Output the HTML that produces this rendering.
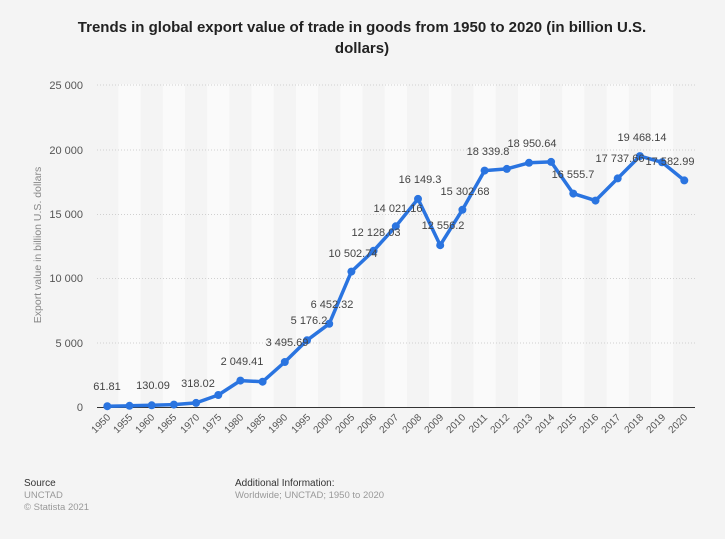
<!DOCTYPE html>
<html><head><meta charset="utf-8"><style>
body{margin:0;background:#f4f4f4;}
svg{display:block;font-family:"Liberation Sans",Arial,sans-serif;}
</style></head><body>
<svg width="725" height="539" viewBox="0 0 725 539" xmlns="http://www.w3.org/2000/svg">
<rect width="725" height="539" fill="#f4f4f4"/>
<text x="362" y="32" text-anchor="middle" font-size="15" font-weight="bold" fill="#222">Trends in global export value of trade in goods from 1950 to 2020 (in billion U.S.</text>
<text x="362" y="53" text-anchor="middle" font-size="15" font-weight="bold" fill="#222">dollars)</text>
<g fill="#fafafa">
<rect x="118.4" y="84" width="22.2" height="323"/><rect x="162.8" y="84" width="22.2" height="323"/><rect x="207.2" y="84" width="22.2" height="323"/><rect x="251.5" y="84" width="22.2" height="323"/><rect x="295.9" y="84" width="22.2" height="323"/><rect x="340.3" y="84" width="22.2" height="323"/><rect x="384.7" y="84" width="22.2" height="323"/><rect x="429.1" y="84" width="22.2" height="323"/><rect x="473.5" y="84" width="22.2" height="323"/><rect x="517.9" y="84" width="22.2" height="323"/><rect x="562.2" y="84" width="22.2" height="323"/><rect x="606.6" y="84" width="22.2" height="323"/><rect x="651.0" y="84" width="22.2" height="323"/>
</g>
<g stroke="#d0d0d0" stroke-width="1" stroke-dasharray="1,2">
<line x1="97" x2="695" y1="85" y2="85"/><line x1="97" x2="695" y1="150" y2="150"/><line x1="97" x2="695" y1="214.5" y2="214.5"/><line x1="97" x2="695" y1="278.5" y2="278.5"/><line x1="97" x2="695" y1="343" y2="343"/>
</g>
<line x1="97" x2="695" y1="407.5" y2="407.5" stroke="#333" stroke-width="1"/>
<g font-size="11" fill="#555" text-anchor="end">
<text x="83" y="89">25 000</text><text x="83" y="154">20 000</text><text x="83" y="218">15 000</text><text x="83" y="282">10 000</text><text x="83" y="347">5 000</text><text x="83" y="411">0</text>
</g>
<text transform="translate(41,245) rotate(-90)" text-anchor="middle" font-size="10.5" fill="#888">Export value in billion U.S. dollars</text>
<polyline fill="none" stroke="#2a74e0" stroke-width="3.5" stroke-linejoin="round" points="107.3,406.2 129.5,405.8 151.7,405.3 173.9,404.6 196.1,402.9 218.3,395 240.4,380.6 262.6,381.7 284.8,362 307,340.3 329.2,323.8 351.4,271.6 373.6,250.7 395.8,226.3 418,198.9 440.2,245.2 462.4,209.8 484.6,170.6 506.8,168.9 529,162.8 551.1,161.9 573.3,193.6 595.5,200.6 617.7,178.4 639.9,156.1 662.1,162.3 684.3,180.4"/>
<g fill="#2a74e0">
<circle cx="107.3" cy="406.2" r="4"/><circle cx="129.5" cy="405.8" r="4"/><circle cx="151.7" cy="405.3" r="4"/><circle cx="173.9" cy="404.6" r="4"/><circle cx="196.1" cy="402.9" r="4"/><circle cx="218.3" cy="395" r="4"/><circle cx="240.4" cy="380.6" r="4"/><circle cx="262.6" cy="381.7" r="4"/><circle cx="284.8" cy="362" r="4"/><circle cx="307" cy="340.3" r="4"/><circle cx="329.2" cy="323.8" r="4"/><circle cx="351.4" cy="271.6" r="4"/><circle cx="373.6" cy="250.7" r="4"/><circle cx="395.8" cy="226.3" r="4"/><circle cx="418" cy="198.9" r="4"/><circle cx="440.2" cy="245.2" r="4"/><circle cx="462.4" cy="209.8" r="4"/><circle cx="484.6" cy="170.6" r="4"/><circle cx="506.8" cy="168.9" r="4"/><circle cx="529" cy="162.8" r="4"/><circle cx="551.1" cy="161.9" r="4"/><circle cx="573.3" cy="193.6" r="4"/><circle cx="595.5" cy="200.6" r="4"/><circle cx="617.7" cy="178.4" r="4"/><circle cx="639.9" cy="156.1" r="4"/><circle cx="662.1" cy="162.3" r="4"/><circle cx="684.3" cy="180.4" r="4"/>
</g>
<g font-size="11" fill="#444" text-anchor="middle">
<text x="107" y="390">61.81</text><text x="153" y="389">130.09</text><text x="198" y="387">318.02</text><text x="242" y="365">2 049.41</text><text x="287" y="346">3 495.69</text><text x="309" y="324">5 176.2</text><text x="332" y="308">6 452.32</text><text x="353" y="257">10 502.74</text><text x="376" y="236">12 128.03</text><text x="398" y="212">14 021.16</text><text x="420" y="183">16 149.3</text><text x="443" y="229">12 556.2</text><text x="465" y="195">15 302.68</text><text x="488" y="155">18 339.8</text><text x="532" y="147">18 950.64</text><text x="573" y="178">16 555.7</text><text x="620" y="162">17 737.66</text><text x="642" y="141">19 468.14</text><text x="670" y="165">17 582.99</text>
</g>
<g font-size="10" fill="#555" text-anchor="end">
<text transform="translate(111,418) rotate(-45)">1950</text><text transform="translate(133,418) rotate(-45)">1955</text><text transform="translate(155,418) rotate(-45)">1960</text><text transform="translate(177,418) rotate(-45)">1965</text><text transform="translate(200,418) rotate(-45)">1970</text><text transform="translate(222,418) rotate(-45)">1975</text><text transform="translate(244,418) rotate(-45)">1980</text><text transform="translate(266,418) rotate(-45)">1985</text><text transform="translate(288,418) rotate(-45)">1990</text><text transform="translate(311,418) rotate(-45)">1995</text><text transform="translate(333,418) rotate(-45)">2000</text><text transform="translate(355,418) rotate(-45)">2005</text><text transform="translate(377,418) rotate(-45)">2006</text><text transform="translate(399,418) rotate(-45)">2007</text><text transform="translate(422,418) rotate(-45)">2008</text><text transform="translate(444,418) rotate(-45)">2009</text><text transform="translate(466,418) rotate(-45)">2010</text><text transform="translate(488,418) rotate(-45)">2011</text><text transform="translate(510,418) rotate(-45)">2012</text><text transform="translate(533,418) rotate(-45)">2013</text><text transform="translate(555,418) rotate(-45)">2014</text><text transform="translate(577,418) rotate(-45)">2015</text><text transform="translate(599,418) rotate(-45)">2016</text><text transform="translate(621,418) rotate(-45)">2017</text><text transform="translate(644,418) rotate(-45)">2018</text><text transform="translate(666,418) rotate(-45)">2019</text><text transform="translate(688,418) rotate(-45)">2020</text>
</g>
<text x="24" y="486" font-size="10" fill="#333">Source</text>
<text x="24" y="498" font-size="9.5" fill="#999">UNCTAD</text>
<text x="24" y="510" font-size="9.5" fill="#999">© Statista 2021</text>
<text x="235" y="486" font-size="10" fill="#333">Additional Information:</text>
<text x="235" y="498" font-size="9.5" fill="#999">Worldwide; UNCTAD; 1950 to 2020</text>
</svg>
</body></html>
